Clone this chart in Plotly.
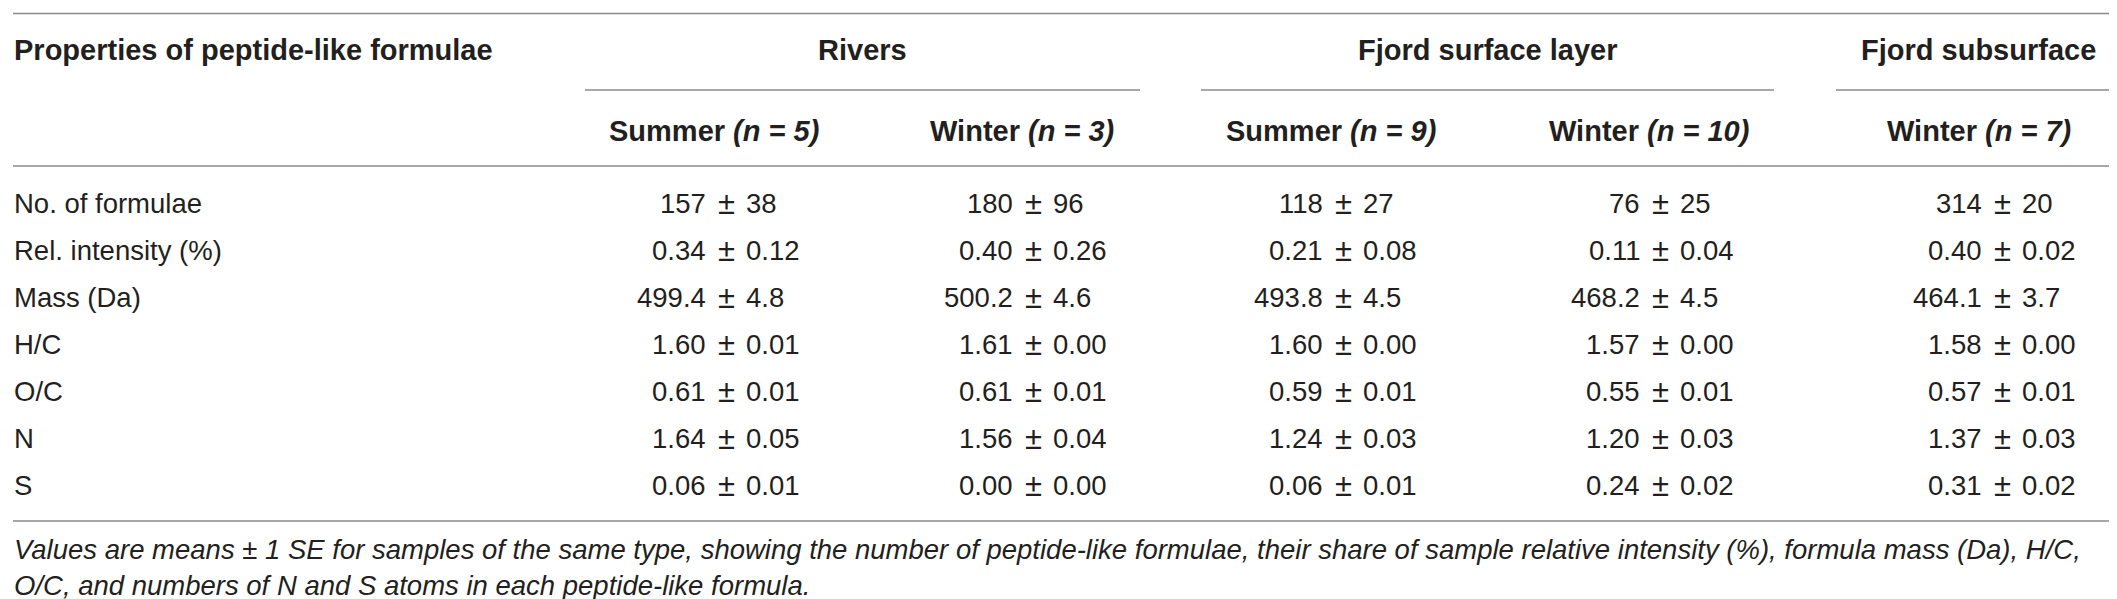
import plotly.graph_objects as go

# table content
row_labels = ["No. of formulae", "Rel. intensity (%)", "Mass (Da)", "H/C", "O/C", "N", "S"]
group_names = ["Rivers", "Fjord surface layer", "Fjord subsurface"]
season_names = ["Summer", "Winter", "Summer", "Winter", "Winter"]
sample_n = [5, 3, 9, 10, 7]

rivers_summer_mean = ["157", "0.34", "499.4", "1.60", "0.61", "1.64", "0.06"]
rivers_summer_se = ["38", "0.12", "4.8", "0.01", "0.01", "0.05", "0.01"]
rivers_winter_mean = ["180", "0.40", "500.2", "1.61", "0.61", "1.56", "0.00"]
rivers_winter_se = ["96", "0.26", "4.6", "0.00", "0.01", "0.04", "0.00"]
surface_summer_mean = ["118", "0.21", "493.8", "1.60", "0.59", "1.24", "0.06"]
surface_summer_se = ["27", "0.08", "4.5", "0.00", "0.01", "0.03", "0.01"]
surface_winter_mean = ["76", "0.11", "468.2", "1.57", "0.55", "1.20", "0.24"]
surface_winter_se = ["25", "0.04", "4.5", "0.00", "0.01", "0.03", "0.02"]
subsurface_winter_mean = ["314", "0.40", "464.1", "1.58", "0.57", "1.37", "0.31"]
subsurface_winter_se = ["20", "0.02", "3.7", "0.00", "0.01", "0.03", "0.02"]

footnote_lines = [
    "Values are means \u00b1 1 SE for samples of the same type, showing the number of "
    "peptide-like formulae, their share of sample relative intensity (%), formula mass (Da), H/C,",
    "O/C, and numbers of N and S atoms in each peptide-like formula.",
]

means = [rivers_summer_mean, rivers_winter_mean, surface_summer_mean,
         surface_winter_mean, subsurface_winter_mean]
ses = [rivers_summer_se, rivers_winter_se, surface_summer_se,
       surface_winter_se, subsurface_winter_se]

# layout (pixel coordinates of the 2117 x 599 page)
W, H = 2117, 599
FONT = "Liberation Sans"
TXT = "#231f20"
LINE = "#8a8a8a"
col_head_x = [706, 1014, 1323, 1641, 1971]
col_pm_x = [718, 1025, 1335, 1652, 1994]
group_span = [(577, 1132), (1193, 1766), (1828, 2112)]
row_y = [195, 242, 289, 336, 383, 430, 477]
foot_y = [541, 577]
body_size = 27.5
head_size = 29

fig = go.Figure()
fig.add_trace(go.Scatter(x=[0, W], y=[0, H], mode="markers",
                         marker=dict(opacity=0), hoverinfo="skip", showlegend=False))

ann = []

def add_text(x, y, text, size=body_size, xanchor="center", italic=False, bold=False):
    ann.append(dict(x=x, y=y, xref="x", yref="y", text=text, showarrow=False,
                    xanchor=xanchor, yanchor="middle", borderpad=0, borderwidth=0,
                    font=dict(family=FONT, size=size, color=TXT,
                              style="italic" if italic else "normal",
                              weight="bold" if bold else "normal")))

# headers
add_text(6, 42, "Properties of peptide-like formulae", size=head_size, xanchor="left", bold=True)
for g, name in enumerate(group_names):
    x0, x1 = group_span[g]
    add_text((x0 + x1) / 2, 42, name, size=head_size, bold=True)
for c in range(len(season_names)):
    add_text(col_head_x[c], 123, f"{season_names[c]} <i>(n = {sample_n[c]})</i>",
             size=head_size, bold=True)

# body, values aligned on the plus-minus sign
for r, label in enumerate(row_labels):
    add_text(6, row_y[r], label, xanchor="left")
    for c in range(len(means)):
        pm = col_pm_x[c]
        add_text(pm - 20, row_y[r], means[c][r], xanchor="right")
        add_text(pm, row_y[r], "\u00b1", size=31)
        add_text(pm + 20, row_y[r], ses[c][r], xanchor="left")

for y, line in zip(foot_y, footnote_lines):
    add_text(6, y, line, xanchor="left", italic=True)

# rules
shapes = []
def hline(x0, x1, y):
    shapes.append(dict(type="line", xref="x", yref="y", x0=x0, x1=x1, y0=y, y1=y,
                       line=dict(color=LINE, width=1.6)))

hline(5, 2112, 5.5)
for x0, x1 in group_span:
    hline(x0, x1, 82)
hline(5, 2112, 158)
hline(5, 2112, 513)

fig.update_layout(
    width=W, height=H,
    margin=dict(l=0, r=0, t=0, b=0),
    paper_bgcolor="white", plot_bgcolor="white",
    xaxis=dict(range=[0, W], visible=False, fixedrange=True),
    yaxis=dict(range=[H, 0], visible=False, fixedrange=True),
    annotations=ann, shapes=shapes, showlegend=False,
)

fig.write_html("out.html")
